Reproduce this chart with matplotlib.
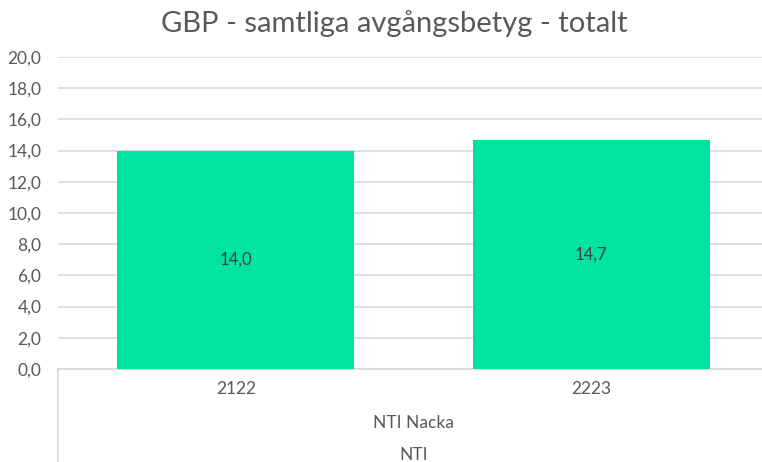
import matplotlib
matplotlib.use('Agg')
import matplotlib.pyplot as plt
from matplotlib.ticker import MultipleLocator, FuncFormatter

years = ['2122', '2223']
values = [14.0, 14.7]
school = 'NTI Nacka'
org = 'NTI'
title = 'GBP - samtliga avgångsbetyg - totalt'

plt.rcParams['font.family'] = ['Lato', 'DejaVu Sans']
W, H = 762, 462
fig = plt.figure(figsize=(W / 100, H / 100), dpi=100)
ax = fig.add_axes([58 / W, 1 - 369 / H, (769 - 58) / W, (369 - 57) / H])

x = list(range(len(years)))
ax.bar(x, values, width=0.667, color='#00E3A1', zorder=3)
for xi, v in zip(x, values):
    ax.text(xi, v / 2, f'{v:.1f}'.replace('.', ','), ha='center', va='center',
            fontsize=12, color='#404040', zorder=4)

ax.set_xlim(-0.5, len(years) - 0.5)
ax.set_ylim(0, 20)
ax.yaxis.set_major_locator(MultipleLocator(2))
ax.yaxis.set_major_formatter(FuncFormatter(lambda v, p: f'{v:.1f}'.replace('.', ',')))
ax.grid(axis='y', color='#d9d9d9', linewidth=1.2, zorder=0)
for s in ['top', 'right', 'left']:
    ax.spines[s].set_visible(False)
ax.spines['bottom'].set_color('#d9d9d9')
ax.spines['bottom'].set_linewidth(1.2)
ax.tick_params(axis='y', length=0, pad=12, labelsize=12.5, labelcolor='#595959')
ax.tick_params(axis='x', length=0, pad=9, labelsize=12.5, labelcolor='#595959')
ax.set_xticks(x)
ax.set_xticklabels(years)

# multi-level category labels
cx = (58 + 769) / 2 / W
fig.text(cx, 1 - 423 / H, school, ha='center', va='center', fontsize=12.5, color='#595959')
fig.text(cx, 1 - 455 / H, org, ha='center', va='center', fontsize=12.5, color='#595959')
fig.add_artist(plt.Line2D([58 / W, 58 / W], [0, 1 - 369 / H], color='#d9d9d9', linewidth=1.2))

fig.text(394 / W, 1 - 24 / H, title, ha='center', va='center', fontsize=21, color='#595959')

fig.savefig('out.png', dpi=100)
